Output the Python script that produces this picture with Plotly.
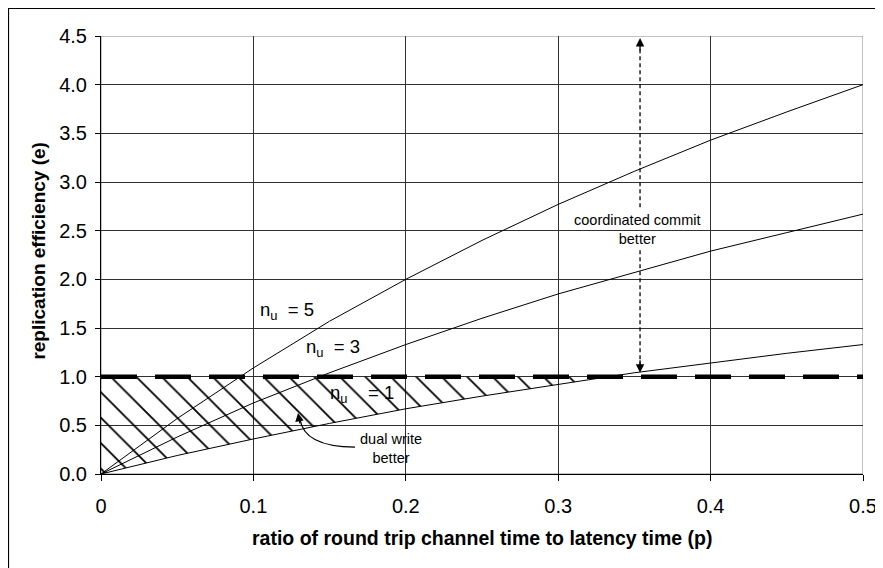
import plotly.graph_objects as go

# ---- data ----
p_values = [0.0, 0.05, 0.10, 0.15, 0.20, 0.25, 0.30, 0.35, 0.40, 0.45, 0.50]
e_nu5 = [0.0, 0.57, 1.09, 1.57, 2.00, 2.40, 2.77, 3.11, 3.43, 3.72, 4.00]
e_nu3 = [0.0, 0.38, 0.73, 1.04, 1.33, 1.60, 1.85, 2.07, 2.29, 2.48, 2.67]
e_nu1 = [0.0, 0.19, 0.36, 0.52, 0.67, 0.80, 0.92, 1.04, 1.14, 1.24, 1.33]

threshold_p = [0.0, 0.5]
threshold_e = [1.0, 1.0]

# hatched "dual write better" region: under e=1, above the n_u=1 curve
hatch_p = [0.0, 0.05, 0.10, 0.15, 0.20, 0.25, 0.30, 0.333, 0.0]
hatch_e = [0.0, 0.19, 0.36, 0.52, 0.67, 0.80, 0.92, 1.00, 1.00]

x_ticks = [0, 0.1, 0.2, 0.3, 0.4, 0.5]
x_tick_labels = ["0", "0.1", "0.2", "0.3", "0.4", "0.5"]
y_ticks = [0, 0.5, 1.0, 1.5, 2.0, 2.5, 3.0, 3.5, 4.0, 4.5]
y_tick_labels = ["0.0", "0.5", "1.0", "1.5", "2.0", "2.5", "3.0", "3.5", "4.0", "4.5"]

FONT = "Liberation Sans, Arial, sans-serif"

fig = go.Figure()

fig.add_trace(go.Scatter(
    x=hatch_p, y=hatch_e, mode="none", fill="toself",
    fillcolor="rgba(0,0,0,0)",
    fillpattern=dict(shape="\\", size=18, solidity=0.1, fgcolor="black",
                     fgopacity=1, bgcolor="rgba(0,0,0,0)"),
    hoverinfo="skip", showlegend=False))

for ys in (e_nu5, e_nu3, e_nu1):
    fig.add_trace(go.Scatter(x=p_values, y=ys, mode="lines",
                             line=dict(color="black", width=1),
                             showlegend=False))

fig.add_trace(go.Scatter(x=threshold_p, y=threshold_e, mode="lines",
                         line=dict(color="black", width=4.5, dash="36px,18px"),
                         showlegend=False))

shapes = [
    # plot-area border (top / right in gray)
    dict(type="rect", xref="x", yref="y", x0=0, x1=0.5, y0=0, y1=4.5,
         line=dict(color="#888888", width=1), layer="below"),
    # outer chart frame
    dict(type="rect", xref="paper", yref="paper", x0=-0.1214, x1=1.06,
         y0=-0.27, y1=1.0628, line=dict(color="black", width=1.2)),
    # dashed double arrow shafts
    dict(type="line", xref="x", yref="y", x0=0.3537, x1=0.3537, y0=2.74, y1=4.40,
         line=dict(color="black", width=1.3, dash="4px,3px")),
    dict(type="line", xref="x", yref="y", x0=0.3537, x1=0.3537, y0=2.30, y1=1.12,
         line=dict(color="black", width=1.3, dash="4px,3px")),
    # curved arrow for "dual write better"
    dict(type="path", xref="x", yref="y",
         path="M 0.1667,0.277 Q 0.133,0.277 0.1305,0.57",
         line=dict(color="black", width=1.3)),
]

annotations = [
    dict(x=0.3537, y=4.48, ax=0, ay=14, text="", showarrow=True,
         arrowhead=2, arrowsize=1.3, arrowwidth=1.3, arrowcolor="black"),
    dict(x=0.3537, y=1.04, ax=0, ay=-14, text="", showarrow=True,
         arrowhead=2, arrowsize=1.3, arrowwidth=1.3, arrowcolor="black"),
    dict(x=0.1293, y=0.627, ax=2, ay=12, text="", showarrow=True,
         arrowhead=2, arrowsize=1.3, arrowwidth=1.3, arrowcolor="black"),
    dict(x=0.352, y=2.51, text="coordinated commit<br>better", showarrow=False,
         font=dict(family=FONT, size=14.5, color="black"), align="center"),
    dict(x=0.1906, y=0.26, text="dual write<br>better", showarrow=False,
         font=dict(family=FONT, size=14.5, color="black"), align="center"),
    dict(x=0.122, y=1.67, text="n<sub>u</sub>  = 5", showarrow=False,
         font=dict(family=FONT, size=18.5, color="black")),
    dict(x=0.152, y=1.29, text="n<sub>u</sub>  = 3", showarrow=False,
         font=dict(family=FONT, size=18.5, color="black")),
    dict(x=0.171, y=0.82, text="n<sub>u</sub>    = 1", showarrow=False,
         font=dict(family=FONT, size=18.5, color="black")),
    dict(xref="paper", yref="paper", x=-0.0814, y=0.51, textangle=-90,
         xanchor="center", yanchor="middle",
         text="<b>replication efficiency (e)</b>", showarrow=False,
         font=dict(family=FONT, size=19, color="black")),
    dict(xref="paper", yref="paper", x=0.5, y=-0.146,
         xanchor="center", yanchor="middle",
         text="<b>ratio of round trip channel time to latency time (p)</b>",
         showarrow=False, font=dict(family=FONT, size=19.5, color="black")),
]

# page body has an 8px default margin, so the figure is 8px smaller
fig.update_layout(
    width=875, height=560, autosize=False,
    margin=dict(l=93, r=20, t=28, b=94, autoexpand=False),
    paper_bgcolor="white", plot_bgcolor="white",
    font=dict(family=FONT, color="black"),
    shapes=shapes, annotations=annotations, showlegend=False,
)
fig.update_xaxes(range=[0, 0.5], tickvals=x_ticks, ticktext=x_tick_labels,
                 showgrid=True, gridcolor="#303030", gridwidth=1,
                 showline=True, linecolor="black", linewidth=1,
                 ticks="outside", ticklen=6, tickcolor="black",
                 ticklabelstandoff=8, tickfont=dict(size=20, family=FONT),
                 zeroline=False, automargin=False)
fig.update_yaxes(range=[0, 4.5], tickvals=y_ticks, ticktext=y_tick_labels,
                 showgrid=True, gridcolor="#303030", gridwidth=1,
                 showline=True, linecolor="black", linewidth=1,
                 ticks="outside", ticklen=5, tickcolor="black",
                 ticklabelstandoff=4, tickfont=dict(size=20, family=FONT),
                 zeroline=False, automargin=False)

fig.write_html("out.html")
